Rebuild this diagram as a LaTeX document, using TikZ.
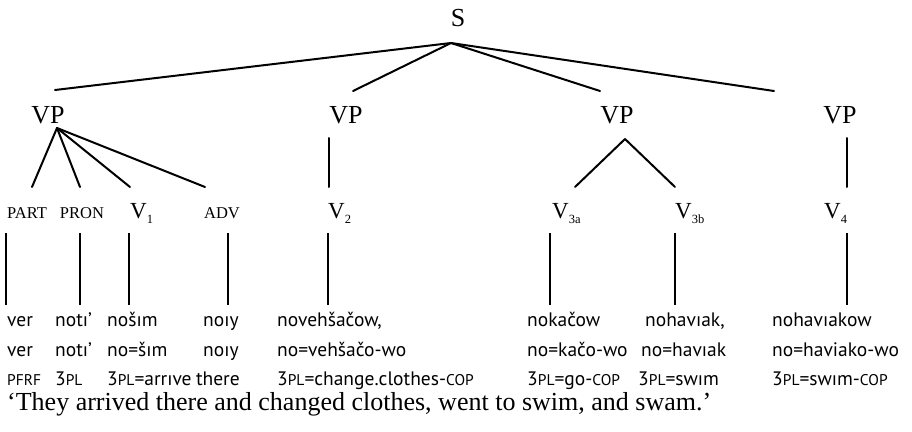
\documentclass[tikz,border=0pt]{standalone}
\usepackage{fontspec}
\setmainfont{Liberation Serif}
\newfontfamily\glfont{PT Sans}
\newcommand\glsc[1]{{\fontsize{15.5}{15.5}\selectfont #1}}
\newcommand\vsub[1]{V\raisebox{-0.22em}{\fontsize{12.5}{12.5}\selectfont #1}}
\tikzset{
  tree/.style={line width=2pt, line cap=round},
  stem/.style={line width=1.7pt},
  big/.style={inner sep=0pt, anchor=base, font=\fontsize{26}{26}\selectfont},
  cat/.style={inner sep=0pt, anchor=base, font=\fontsize{16.5}{16.5}\selectfont},
  vlab/.style={inner sep=0pt, anchor=base west, font=\fontsize{23}{23}\selectfont},
  gl/.style={inner sep=0pt, anchor=base west, font=\glfont\fontsize{19.5}{19.5}\selectfont},
  trans/.style={inner sep=0pt, anchor=base west, font=\fontsize{26}{26}\selectfont},
}
\begin{document}
\begin{tikzpicture}[x=1pt,y=-1pt]
\useasboundingbox (0,0) rectangle (912,431);
% top level
\node[big] (S) at (458,27) {S};
\node[big] (vp1) at (48,123) {VP};
\node[big] (vp2) at (346,123) {VP};
\node[big] (vp3) at (617,123) {VP};
\node[big] (vp4) at (840,123) {VP};
\coordinate (sa) at (451,43);
\coordinate (e1) at (55,90);
\coordinate (e2) at (353,91);
\coordinate (e3) at (600,91);
\coordinate (e4) at (774,91);
\draw[tree] (sa) -- (e1);
\draw[tree] (sa) -- (e2);
\draw[tree] (sa) -- (e3);
\draw[tree] (sa) -- (e4);
% second level
\coordinate (a1) at (57,128);
\coordinate (f1) at (32,187);
\coordinate (f2) at (80,187);
\coordinate (f3) at (130,187);
\coordinate (f4) at (205,187);
\draw[tree] (a1) -- (f1);
\draw[tree] (a1) -- (f2);
\draw[tree] (a1) -- (f3);
\draw[tree] (a1) -- (f4);
\coordinate (a2) at (329,138);
\coordinate (f5) at (329,187);
\draw[tree] (a2) -- (f5);
\coordinate (a3) at (625,139);
\coordinate (f6) at (575,187);
\coordinate (f7) at (675,187);
\draw[tree] (a3) -- (f6);
\draw[tree] (a3) -- (f7);
\coordinate (a4) at (847,138);
\coordinate (f8) at (847,187);
\draw[tree] (a4) -- (f8);
% categories
\node[cat] (part) at (27,218) {PART};
\node[cat] (pron) at (82,218) {PRON};
\node[vlab] (v1) at (130,218) {\vsub{1}};
\node[cat] (adv) at (222,218) {ADV};
\node[vlab] (v2) at (328,218) {\vsub{2}};
\node[vlab] (v3a) at (552,218) {\vsub{3a}};
\node[vlab] (v3b) at (675,218) {\vsub{3b}};
\node[vlab] (v4) at (824,218) {\vsub{4}};
% stems
\foreach \i/\x in {1/6,2/80,3/129,4/228,5/328,6/550,7/675,8/847}{
  \coordinate (st\i) at (\x,233);
  \coordinate (sb\i) at (\x,305);
  \draw[stem] (st\i) -- (sb\i);
}
% row 1
\node[gl] (w11) at (7,326) {ver};
\node[gl] (w12) at (55,326) {notı’};
\node[gl] (w13) at (107,326) {nošım};
\node[gl] (w14) at (203,326) {noıy};
\node[gl] (w15) at (277,326) {novehšačow,};
\node[gl] (w16) at (527,326) {nokačow};
\node[gl] (w17) at (645,326) {nohavıak,};
\node[gl] (w18) at (772,326) {nohavıakow};
% row 2
\node[gl] (w21) at (7,356) {ver};
\node[gl] (w22) at (55,356) {notı’};
\node[gl] (w23) at (107,356) {no=šım};
\node[gl] (w24) at (203,356) {noıy};
\node[gl] (w25) at (277,356) {no=vehšačo-wo};
\node[gl] (w26) at (527,356) {no=kačo-wo};
\node[gl] (w27) at (641,356) {no=havıak};
\node[gl] (w28) at (772,356) {no=haviako-wo};
% row 3
\node[gl] (w31) at (7,385) {\glsc{PFRF}};
\node[gl] (w32) at (55,385) {3\glsc{PL}};
\node[gl] (w33) at (107,385) {3\glsc{PL}=arrıve};
\node[gl] (w34) at ([xshift=4pt]w33.base east) {there};
\node[gl] (w35) at (277,385) {3\glsc{PL}=change.clothes-\glsc{COP}};
\node[gl] (w36) at (527,385) {3\glsc{PL}=go-\glsc{COP}};
\node[gl] (w37) at (638,385) {3\glsc{PL}=swım};
\node[gl] (w38) at (772,385) {3\glsc{PL}=swım-\glsc{COP}};
% translation
\node[trans] (tr) at (7,410) {‘They arrived there and changed clothes, went to swim, and swam.’};
\end{tikzpicture}
\end{document}
